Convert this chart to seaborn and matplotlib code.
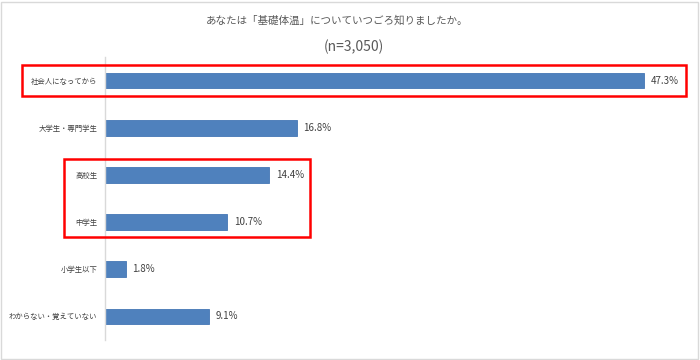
import matplotlib
matplotlib.use('Agg')
import matplotlib.pyplot as plt
import matplotlib.patches as patches
import matplotlib.transforms as mtransforms
import seaborn as sns
import pandas as pd

sns.set_style('white')
plt.rcParams['font.family'] = ['Noto Sans CJK JP', 'DejaVu Sans']

# データ
categories = ['社会人になってから', '大学生・専門学生', '高校生', '中学生',
              '小学生以下', 'わからない・覚えていない']
values = [47.3, 16.8, 14.4, 10.7, 1.8, 9.1]
value_labels = ['47.3%', '16.8%', '14.4%', '10.7%', '1.8%', '9.1%']
title = 'あなたは「基礎体温」についていつごろ知りましたか。'
subtitle = '(n=3,050)'

df = pd.DataFrame({'category': categories, 'value': values})

W, H = 700, 360
fig = plt.figure(figsize=(7, 3.6), dpi=100)
ax = fig.add_axes([105 / W, (H - 340) / H, (690 - 105) / W, 283 / H])

sns.barplot(data=df, y='category', x='value', orient='h', ax=ax,
            color='#4f81bd', saturation=1, width=0.33,
            edgecolor='#4477b5', linewidth=0.6)

ax.set_xlim(0, 585 / 11.4)
ax.set_xlabel('')
ax.set_ylabel('')
ax.set_xticks([])
ax.tick_params(axis='y', length=0, pad=5.5, labelsize=5.3, labelcolor='#404040')
for s in ['top', 'right', 'bottom']:
    ax.spines[s].set_visible(False)
ax.spines['left'].set_color('#d9d9d9')
ax.spines['left'].set_linewidth(1)

# 値ラベル
for i, (v, lab) in enumerate(zip(values, value_labels)):
    ax.text(v + 0.6, i, lab, va='center', ha='left', fontsize=7,
            color='#404040')

# タイトル
fig.text(337 / W, 1 - 20 / H, title, ha='center', va='center',
         fontsize=7.6, color='#595959')
fig.text(354 / W, 1 - 47 / H, subtitle, ha='center', va='center',
         fontsize=10, color='#595959')

# 赤枠
trans = mtransforms.blended_transform_factory(fig.transFigure, ax.transData)
boxes = [(22, 686, 0, 0), (64, 310, 2, 3)]
for x0, x1, r0, r1 in boxes:
    rect = patches.Rectangle((x0 / W, r0 - 0.34), (x1 - x0) / W,
                             (r1 - r0) + 0.66, transform=trans, fill=False,
                             edgecolor='#ff0000', linewidth=1.8, clip_on=False)
    fig.add_artist(rect)

# 外枠
fig.add_artist(patches.Rectangle((0.5 / W, 1.5 / H), 697 / W, 357 / H,
                                 transform=fig.transFigure, fill=False,
                                 edgecolor='#d9d9d9', linewidth=1))

fig.savefig('out.png', dpi=100)
